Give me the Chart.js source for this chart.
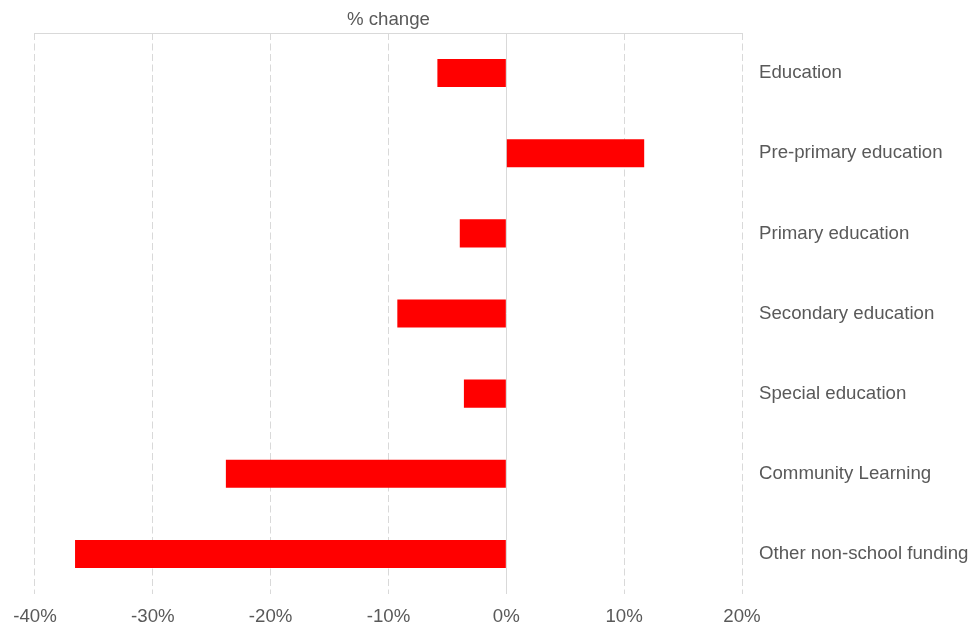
<!DOCTYPE html>
<html>
<head>
<meta charset="utf-8">
<script src="https://cdn.jsdelivr.net/npm/chart.js@4/dist/chart.umd.min.js"></script>
<style>
  html, body { margin: 0; padding: 0; background: #ffffff; }
  #wrap { width: 971px; height: 626px; }
</style>
</head>
<body>
<div id="wrap"><canvas id="changeChart"></canvas></div>
<script>
const categories = [
  "Education",
  "Pre-primary education",
  "Primary education",
  "Secondary education",
  "Special education",
  "Community Learning",
  "Other non-school funding",
];

const percentChange = [-5.85, 11.7, -3.95, -9.25, -3.6, -23.8, -36.6];

const xTicks = [-40, -30, -20, -10, 0, 10, 20];

const textColor = "#595959";
const gridColor = "#d9d9d9";
const fontFamily = "Liberation Sans, Arial, sans-serif";
const fontSize = 18.67;

// solid line at 0% drawn over the dashed grid
const zeroLine = {
  id: "zeroLine",
  beforeDatasetsDraw(chart) {
    const { ctx, chartArea, scales } = chart;
    const x = Math.round(scales.x.getPixelForValue(0)) + 0.5;
    ctx.save();
    ctx.strokeStyle = gridColor;
    ctx.lineWidth = 1;
    ctx.beginPath();
    ctx.moveTo(x, chartArea.top);
    ctx.lineTo(x, chartArea.bottom);
    ctx.stroke();
    ctx.restore();
  },
};

new Chart(document.getElementById("changeChart"), {
  type: "bar",
  data: {
    labels: categories,
    datasets: [
      {
        label: "% change",
        data: percentChange,
        backgroundColor: "#ff0000",
        borderWidth: 0,
        barPercentage: 0.35,
        categoryPercentage: 1,
      },
    ],
  },
  options: {
    indexAxis: "y",
    responsive: true,
    maintainAspectRatio: false,
    animation: false,
    layout: {
      padding: { top: 2.6, left: 32, right: 0, bottom: 0 },
    },
    plugins: {
      legend: { display: false },
      tooltip: { enabled: false },
    },
    scales: {
      x: {
        min: -40,
        max: 20,
        afterBuildTicks: (axis) => {
          axis.ticks = xTicks.map((v) => ({ value: v }));
        },
        afterFit: (axis) => {
          axis.height = 32;
        },
        grid: {
          color: gridColor,
          drawTicks: false,
        },
        border: { display: false, dash: [7, 3.5] },
        ticks: {
          color: textColor,
          padding: 13.2,
          font: { family: fontFamily, size: fontSize, lineHeight: 1 },
          callback: (v) => v + "%",
        },
      },
      x2: {
        position: "top",
        min: -40,
        max: 20,
        grid: { display: false, drawTicks: false },
        border: { display: true, color: gridColor, width: 1 },
        ticks: { display: false },
        title: {
          display: true,
          text: "% change",
          color: textColor,
          padding: { top: 6, bottom: 2 },
          font: { family: fontFamily, size: fontSize },
        },
      },
      y: {
        position: "right",
        grid: { display: false, drawTicks: false },
        border: { display: false },
        afterFit: (axis) => {
          axis.width = 229;
        },
        ticks: {
          color: textColor,
          padding: 17,
          crossAlign: "near",
          font: { family: fontFamily, size: fontSize },
        },
      },
    },
  },
  plugins: [zeroLine],
});
</script>
</body>
</html>
